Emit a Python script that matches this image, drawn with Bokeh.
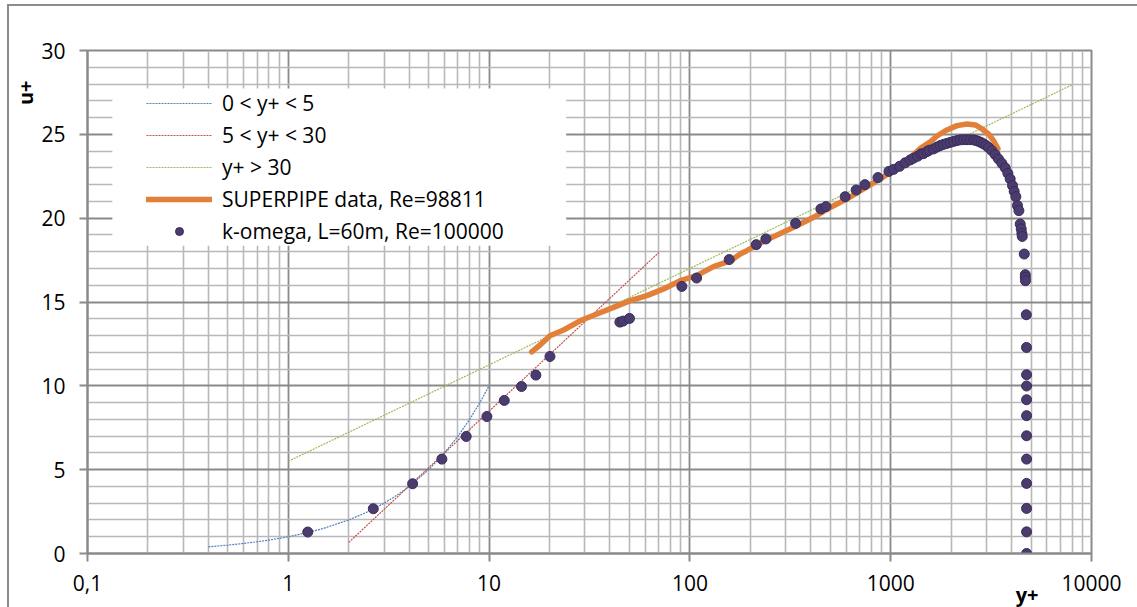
from bokeh.plotting import figure
from bokeh.models import Range1d, FixedTicker, Legend, LegendItem, Title, BoxAnnotation
from bokeh.embed import file_html
from bokeh.resources import INLINE

# ---------------- data ----------------
visc_yplus = [0.4, 0.5, 0.6, 0.7, 0.8, 0.9, 1.0, 1.25, 1.5, 2.0, 2.5, 3.0, 3.5, 4.0, 5.0, 6.0, 7.0, 8.0, 9.0, 10.0]
visc_uplus = [0.4, 0.5, 0.6, 0.7, 0.8, 0.9, 1.0, 1.25, 1.5, 2.0, 2.5, 3.0, 3.5, 4.0, 5.0, 6.0, 7.0, 8.0, 9.0, 10.0]

buffer_yplus = [2.0, 70.0]
buffer_uplus = [0.66, 17.95]

log_yplus = [1.0, 8000.0]
log_uplus = [5.5, 27.95]

pipe_yplus = [16.3, 18.0, 20.1, 23.5, 28.4, 34.4, 41.7, 50.5, 61.1, 74.0, 89.5, 108, 131, 159, 178,
              192, 233, 341, 413, 500, 606, 733, 887, 1075, 1250, 1416, 1575, 1700, 1906, 2140,
              2398, 2640, 2850, 3070, 3250, 3420]
pipe_uplus = [12.03, 12.45, 12.99, 13.33, 13.88, 14.28, 14.68, 15.08, 15.38, 15.78, 16.27, 16.57, 17.11, 17.45, 17.86,
              18.06, 18.62, 19.55, 20.05, 20.64, 21.15, 21.74, 22.34, 23.0, 23.6, 24.2, 24.55, 24.9, 25.26, 25.52,
              25.62, 25.56, 25.32, 25.02, 24.62, 24.15]

kw_yplus = [1.25, 2.65, 4.16, 5.82, 7.69, 9.75, 11.9, 14.5, 17.1, 20.1,
            44.8, 46.5, 50.0, 91.2, 108, 157, 214, 239, 336, 449, 476, 593, 673, 744, 864,
            980, 1033, 1107, 1180, 1250, 1300, 1361, 1416, 1457, 1515, 1555, 1634, 1700, 1765, 1830, 1906,
            1980, 2057, 2140, 2220, 2310, 2398, 2490, 2588, 2660, 2738, 2820, 2900, 2990, 3071, 3190, 3314,
            3442, 3578, 3718, 3834, 3936, 4043, 4120, 4200, 4280, 4350, 4415, 4467, 4500, 4520, 4625,
            4680, 4680, 4690, 4735, 4745, 4750, 4750, 4750, 4750, 4750, 4750, 4750, 4750, 4750, 4750]
kw_uplus = [1.28, 2.67, 4.16, 5.63, 6.98, 8.17, 9.13, 9.96, 10.64, 11.75,
            13.80, 13.86, 14.02, 15.93, 16.43, 17.53, 18.42, 18.76, 19.69, 20.55, 20.69, 21.28, 21.68, 22.0, 22.42,
            22.79, 22.91, 23.09, 23.3, 23.47, 23.58, 23.69, 23.83, 23.85, 23.97, 24.05, 24.13, 24.24, 24.33, 24.40, 24.46,
            24.52, 24.58, 24.63, 24.67, 24.68, 24.68, 24.68, 24.67, 24.63, 24.58, 24.51, 24.43, 24.33, 24.22, 24.03, 23.79,
            23.53, 23.27, 23.0, 22.67, 22.34, 21.94, 21.6, 21.28, 20.75, 20.45, 19.65, 19.36, 19.09, 18.91, 17.86,
            16.63, 16.47, 16.27, 14.24, 12.29, 10.66, 9.99, 9.17, 8.22, 7.02, 5.63, 4.18, 2.69, 1.29, 0.0]

x_tick_values = [0.1, 1.0, 10.0, 100.0, 1000.0, 10000.0]
x_tick_labels = ["0,1", "1", "10", "100", "1000", "10000"]
y_tick_values = [0, 5, 10, 15, 20, 25, 30]

legend_labels = ["0 < y+ < 5", "5 < y+ < 30", "y+ > 30",
                 "SUPERPIPE data, Re=98811", "k-omega, L=60m, Re=100000"]
x_title = "y+"
y_title = "u+"

# ---------------- figure ----------------
FONT = "Open Sans"
GRID_MAJOR = "#8a8a8a"
GRID_MINOR = "#b8b8b8"

p = figure(width=1137, height=607, x_axis_type="log",
           x_range=Range1d(0.1, 10000), y_range=Range1d(0, 30),
           output_backend="svg", toolbar_location=None,
           min_border_left=87, min_border_right=46, min_border_top=50, min_border_bottom=54)

p.border_fill_alpha = 0
p.styles = {"background": "linear-gradient(#8c8c8c,#8c8c8c) 7px 4px / 2px calc(100% - 4px) no-repeat, "
                          "linear-gradient(#8c8c8c,#8c8c8c) 7px 4px / calc(100% - 7px) 2px no-repeat, #ffffff"}
p.outline_line_color = GRID_MAJOR
p.outline_line_width = 2

xt = FixedTicker(ticks=x_tick_values,
                 minor_ticks=[m * 10.0 ** e for e in range(-1, 4) for m in range(2, 10)])
yt = FixedTicker(ticks=y_tick_values, minor_ticks=[v for v in range(1, 30) if v % 5])
p.xaxis.ticker = xt
p.yaxis.ticker = yt
p.xgrid.ticker = xt
p.ygrid.ticker = yt
p.xaxis.major_label_overrides = {float(v): s for v, s in zip(x_tick_values, x_tick_labels)}

for ax in (p.xaxis, p.yaxis):
    ax.axis_line_color = GRID_MAJOR
    ax.axis_line_width = 2
    ax.major_tick_line_color = GRID_MAJOR
    ax.major_tick_line_width = 2
    ax.major_tick_out = 8
    ax.major_tick_in = 0
    ax.minor_tick_out = 0
    ax.minor_tick_in = 0
    ax.major_label_text_font = FONT
    ax.major_label_text_font_size = "21px"
    ax.major_label_text_color = "#000000"
p.yaxis.major_label_standoff = 14
p.xaxis.major_label_standoff = 13

for g in (p.xgrid, p.ygrid):
    g.grid_line_color = GRID_MAJOR
    g.grid_line_width = 1.8
    g.minor_grid_line_color = GRID_MINOR
    g.minor_grid_line_width = 1.6

# white box behind the legend (covers the grid only)
p.add_layout(BoxAnnotation(left=0.133, right=24.2, bottom=18.36, top=27.73,
                           fill_color="#ffffff", fill_alpha=1.0, line_alpha=0.0, level="underlay"))

r_visc = p.line(visc_yplus, visc_uplus, line_color="#4f81bd", line_width=1.2, line_dash="2 1")
r_buf = p.line(buffer_yplus, buffer_uplus, line_color="#c0504d", line_width=1.2, line_dash="2 1")
r_log = p.line(log_yplus, log_uplus, line_color="#9bbb59", line_width=1.2, line_dash="2 1")
r_pipe = p.line(pipe_yplus, pipe_uplus, line_color="#e2803a", line_width=5.5,
                line_cap="round", line_join="round")
r_kw = p.scatter(kw_yplus, kw_uplus, size=10, fill_color="#4b3c70", line_color="#3a2c5a", line_width=1)

legend = Legend(items=[LegendItem(label=lab, renderers=[r])
                       for lab, r in zip(legend_labels, [r_visc, r_buf, r_log, r_pipe, r_kw])],
                location=(59, 308), glyph_width=66, glyph_height=20, label_height=20,
                spacing=4, padding=0, margin=0, label_standoff=10,
                background_fill_alpha=0, border_line_alpha=0,
                label_text_font=FONT, label_text_font_size="21px", label_text_color="#000000")
p.add_layout(legend)

# axis title "u+" (rotated, near the top of the y axis)
p.add_layout(Title(text=y_title, align="right", offset=30, standoff=0, text_font=FONT,
                   text_font_style="bold", text_font_size="20px", text_color="#000000"), "left")

# axis title "y+" next to the 10000 tick label (zero-height panel below the x axis)
p.add_layout(Title(text=x_title, align="right", offset=53, standoff=-29, vertical_align="bottom",
                   text_font=FONT, text_font_style="bold", text_font_size="20px",
                   text_color="#000000"), "below")

open("out.html", "w").write(file_html(p, INLINE))
